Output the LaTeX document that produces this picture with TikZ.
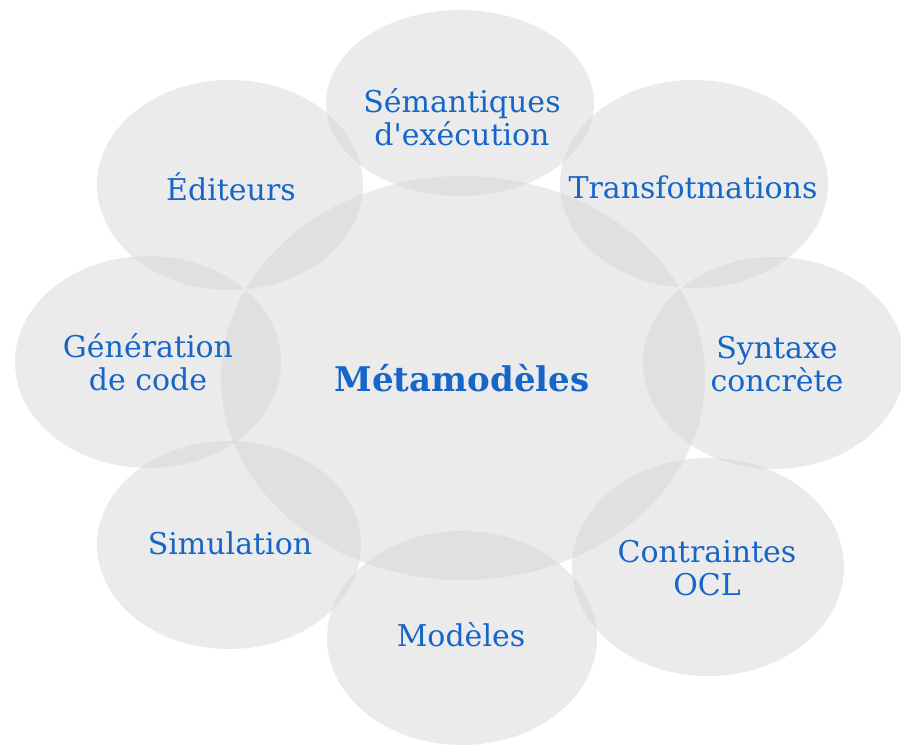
\documentclass[tikz,border=0pt]{standalone}
\usepackage{fontspec}
\setmainfont{DejaVu Serif}
\usetikzlibrary{shapes.geometric}
\definecolor{txtblue}{RGB}{22,102,200}
\definecolor{blobgray}{RGB}{210,210,210}
\tikzset{
  blob/.style={ellipse, draw=none, fill=blobgray, fill opacity=0.45, inner sep=0pt},
  lbl/.style={text=txtblue, align=center, font=\fontsize{30}{33}\selectfont},
  mainlbl/.style={text=txtblue, align=center, font=\fontsize{34}{38}\selectfont\bfseries}
}
\begin{document}
\begin{tikzpicture}[x=1pt,y=-1pt]
\useasboundingbox (0,0) rectangle (901,744);
% central
\node[blob, minimum width=484pt, minimum height=404pt] (meta) at (463,378) {};
% satellites
\node[blob, minimum width=268pt, minimum height=186pt] (sem) at (460,103) {};
\node[blob, minimum width=266pt, minimum height=210pt] (edi) at (230,185) {};
\node[blob, minimum width=268pt, minimum height=208pt] (tra) at (694,184) {};
\node[blob, minimum width=266pt, minimum height=212pt] (gen) at (148,362) {};
\node[blob, minimum width=262pt, minimum height=212pt] (syn) at (774,363) {};
\node[blob, minimum width=264pt, minimum height=208pt] (sim) at (229,545) {};
\node[blob, minimum width=272pt, minimum height=218pt] (ocl) at (708,567) {};
\node[blob, minimum width=270pt, minimum height=214pt] (mod) at (462,638) {};
% labels
\node[mainlbl] (tmeta) at (462,378) {Métamodèles};
\node[lbl] (tsem) at (462,117) {Sémantiques\\d\textquotesingle exécution};
\node[lbl] (tedi) at (231,187) {Éditeurs};
\node[lbl] (ttra) at (693,187) {Transfotmations};
\node[lbl] (tgen) at (148,362) {Génération\\de code};
\node[lbl] (tsyn) at (777,364) {Syntaxe\\concrète};
\node[lbl] (tsim) at (230,543) {Simulation};
\node[lbl] (tocl) at (707,568) {Contraintes\\OCL};
\node[lbl] (tmod) at (461,635) {Modèles};
\end{tikzpicture}
\end{document}
